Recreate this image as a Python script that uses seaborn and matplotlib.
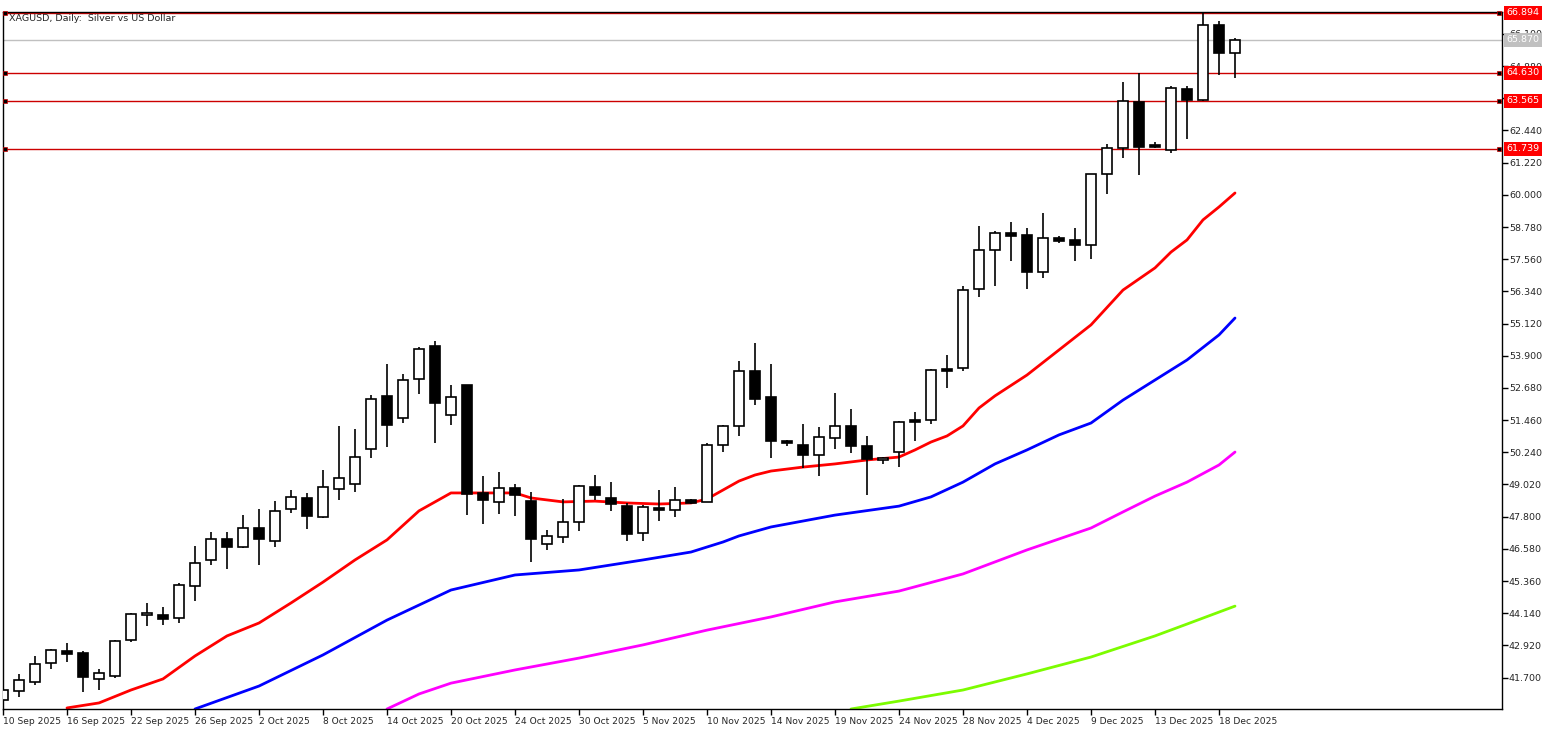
import numpy as np
import pandas as pd
import matplotlib
matplotlib.use("Agg")
import matplotlib.pyplot as plt
import seaborn as sns

sns.set_theme(style="white")
plt.rcParams['font.family'] = ['DejaVu Sans']

opens = [40.85,41.19,41.53,42.25,42.71,42.63,41.65,41.76,43.12,44.07,44.07,43.96,45.17,46.16,46.95,46.65,47.37,46.88,48.09,48.51,
         47.79,48.85,49.04,50.37,52.38,51.54,53.02,54.27,51.65,52.79,48.70,48.36,48.89,48.39,46.76,47.03,47.60,48.92,48.51,48.20,
         47.18,48.13,48.05,48.43,48.36,50.52,51.24,53.32,52.34,50.67,50.52,50.14,50.78,51.24,50.48,49.95,50.25,51.47,51.47,53.40,
         53.44,56.43,57.91,58.55,58.48,57.08,58.36,58.29,58.10,60.79,61.78,63.52,61.89,61.70,64.01,63.60,66.44,65.38]
highs = [41.38,41.84,42.52,42.78,43.01,42.71,42.03,43.12,44.15,44.53,44.38,45.29,46.69,47.22,47.22,47.86,48.09,48.39,48.81,48.70,
         49.57,51.24,51.12,52.41,53.59,53.21,54.23,54.46,52.79,52.79,49.34,49.49,49.04,48.74,47.30,48.47,49.00,49.38,49.11,48.32,
         48.24,48.81,48.92,48.47,50.59,51.28,53.70,54.38,53.59,50.71,51.31,51.20,52.49,51.88,50.86,50.06,51.43,51.77,53.40,53.93,
         56.55,58.82,58.63,58.97,58.74,59.31,58.44,58.74,60.79,61.93,64.28,64.62,62.00,64.13,64.13,66.89,66.59,65.95]
lows = [40.77,40.96,41.42,42.03,42.29,41.15,41.23,41.68,43.05,43.66,43.69,43.77,44.60,45.97,45.82,46.61,45.97,46.65,47.94,47.33,
        47.75,48.43,48.74,50.02,50.44,51.35,52.45,50.59,51.28,47.86,47.52,47.90,47.83,46.08,46.54,46.80,47.26,48.43,48.02,46.88,
        46.88,47.64,47.79,48.28,48.36,50.25,50.86,52.03,50.02,50.48,49.65,49.34,50.37,50.21,48.62,49.80,49.68,50.67,51.31,52.68,
        53.32,56.13,56.55,57.49,56.43,56.85,58.18,57.49,57.57,60.03,61.40,60.75,61.78,61.59,62.12,63.56,64.54,64.43]
closes = [41.23,41.61,42.22,42.75,42.59,41.72,41.87,43.09,44.11,44.08,43.92,45.21,46.04,46.95,46.65,47.37,46.95,48.02,48.55,47.83,
          48.92,49.27,50.06,52.26,51.28,52.98,54.16,52.11,52.34,48.66,48.43,48.89,48.62,46.95,47.07,47.60,48.96,48.62,48.28,47.14,
          48.17,48.05,48.43,48.32,50.52,51.24,53.32,52.26,50.67,50.59,50.14,50.82,51.24,50.48,49.99,50.02,51.39,51.39,53.36,53.32,
          56.39,57.91,58.55,58.44,57.08,58.36,58.25,58.10,60.79,61.78,63.56,61.81,61.81,64.05,63.60,66.44,65.38,65.87]

red_idx = [4,6,8,10,12,14,16,18,20,22,24,26,28,30,32,33,35,37,39,41,43,44,45,46,47,48,50,52,54,56,57,58,59,60,61,62,64,66,68,70,72,73,74,75,76,77]
red_val = [40.55,40.74,41.23,41.65,42.52,43.28,43.77,44.53,45.32,46.16,46.92,48.02,48.70,48.70,48.70,48.51,48.36,48.39,48.32,48.28,48.32,48.47,48.81,49.15,49.38,49.53,49.68,49.80,49.95,50.06,50.33,50.63,50.86,51.24,51.92,52.38,53.17,54.12,55.07,56.39,57.23,57.83,58.29,59.05,59.54,60.07]
blue_idx = [12,16,20,24,28,32,36,40,43,45,46,48,52,56,58,60,62,64,66,68,70,72,74,76,77]
blue_val = [40.51,41.38,42.56,43.88,45.02,45.59,45.78,46.16,46.46,46.84,47.07,47.41,47.86,48.20,48.55,49.11,49.80,50.33,50.90,51.35,52.22,52.98,53.74,54.69,55.33]
mag_idx = [24,26,28,32,36,40,44,48,52,56,60,64,68,70,72,74,76,77]
mag_val = [40.51,41.08,41.49,41.99,42.44,42.94,43.50,44.00,44.57,44.98,45.63,46.54,47.37,47.98,48.58,49.11,49.76,50.25]
grn_idx = [53,56,60,64,68,72,74,77]
grn_val = [40.51,40.81,41.23,41.84,42.48,43.28,43.73,44.41]

date_labels = ["10 Sep 2025","16 Sep 2025","22 Sep 2025","26 Sep 2025","2 Oct 2025","8 Oct 2025","14 Oct 2025","20 Oct 2025",
               "24 Oct 2025","30 Oct 2025","5 Nov 2025","10 Nov 2025","14 Nov 2025","19 Nov 2025","24 Nov 2025","28 Nov 2025",
               "4 Dec 2025","9 Dec 2025","13 Dec 2025","18 Dec 2025"]
price_ticks = [41.700,42.920,44.140,45.360,46.580,47.800,49.020,50.240,51.460,52.680,53.900,55.120,56.340,57.560,58.780,60.000,61.220,62.440,63.660,64.880,66.100]
levels = [66.894,64.630,63.565,61.739]
last_price = 65.870

fig = plt.figure(figsize=(15.5,7.29), dpi=100)
ax = fig.add_axes([3/1550, 20/729, 1499/1550, 697/729])
ax.set_xlim(0, 1499/16)
ax.set_ylim(40.51, 66.93)

df = pd.DataFrame({"x": np.arange(len(opens)), "o": opens, "h": highs, "l": lows, "c": closes})
ax.vlines(df.x, df.l, df.h, color="black", lw=1.2, zorder=3)
up = df[df.c >= df.o]; dn = df[df.c < df.o]
ax.bar(up.x, (up.c-up.o).clip(lower=0.06), bottom=up.o, width=0.62, color="white", edgecolor="black", lw=1.2, zorder=4)
ax.bar(dn.x, (dn.o-dn.c).clip(lower=0.06), bottom=dn.c, width=0.62, color="black", edgecolor="black", lw=1.2, zorder=4)

for idx, val, col in [(red_idx, red_val, "#ff0000"), (blue_idx, blue_val, "#0000ff"),
                      (mag_idx, mag_val, "#ff00ff"), (grn_idx, grn_val, "#7cfc00")]:
    sns.lineplot(x=idx, y=val, color=col, lw=2, ax=ax, zorder=2)

ax.axhline(last_price, color="#c0c0c0", lw=1, zorder=1)
for lv in levels:
    ax.axhline(lv, color="#cc0000", lw=1, zorder=1)
    ax.plot([0.12, 93.5], [lv, lv], "s", ms=3.5, color="black", mec="#cc0000", mew=0.5, clip_on=False, zorder=5)

for s in ax.spines.values():
    s.set_color("black"); s.set_linewidth(1)
ax.set_xticks(np.arange(len(date_labels))*4)
ax.set_xticklabels(date_labels, fontsize=6.6, ha="left")
ax.yaxis.tick_right()
ax.set_yticks(price_ticks)
ax.set_yticklabels([f"{t:.3f}" for t in price_ticks], fontsize=6.8)
ax.tick_params(axis="both", direction="out", length=4, width=1, color="black", pad=2,
               bottom=True, right=True, left=False)
ax.tick_params(axis="y", pad=1)

for lv in levels:
    ax.annotate(f"{lv:.3f}", xy=(1.0, lv), xycoords=("axes fraction", "data"), xytext=(3, 0),
                textcoords="offset points", va="center", ha="left", fontsize=6.8, color="white",
                bbox=dict(boxstyle="square,pad=0.25", fc="#ff0000", ec="none"), zorder=10, annotation_clip=False)
ax.annotate(f"{last_price:.3f}", xy=(1.0, last_price), xycoords=("axes fraction", "data"), xytext=(3, 0),
            textcoords="offset points", va="center", ha="left", fontsize=6.8, color="white",
            bbox=dict(boxstyle="square,pad=0.25", fc="#c0c0c0", ec="none"), zorder=10, annotation_clip=False)

ax.text(0.004, 0.997, "XAGUSD, Daily:  Silver vs US Dollar", transform=ax.transAxes, fontsize=6.8, va="top", ha="left")
ax.set_xlabel(""); ax.set_ylabel("")
fig.savefig("out.png", dpi=100, facecolor="white")
